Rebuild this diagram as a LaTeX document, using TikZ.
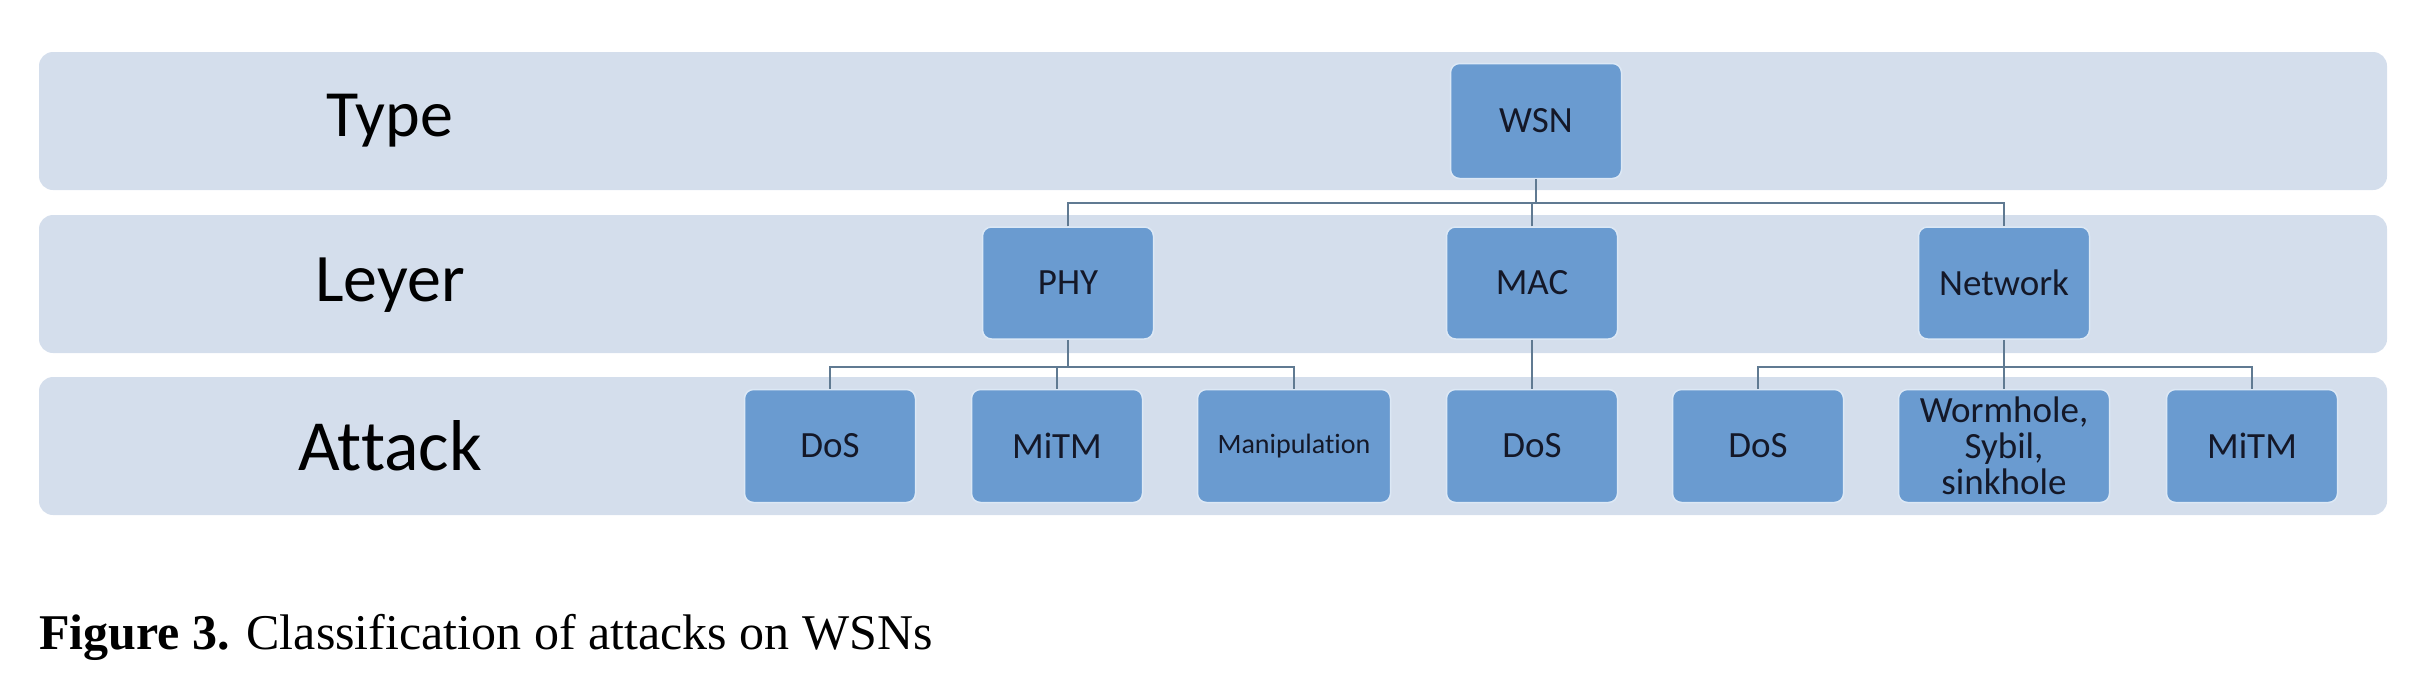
\documentclass[tikz,border=0pt]{standalone}
\usepackage{fontspec}
\setmainfont{Carlito}[Ligatures=NoCommon]
\newfontfamily\capfont{Liberation Serif}
\usetikzlibrary{calc}
\definecolor{bandfill}{RGB}{212,222,236}
\definecolor{boxfill}{RGB}{106,155,208}
\definecolor{boxline}{RGB}{220,232,245}
\definecolor{connline}{RGB}{96,122,146}
\definecolor{boxtext}{RGB}{20,24,40}
\tikzset{
  band/.style={fill=bandfill, draw=none, rounded corners=14pt},
  rowlabel/.style={font=\fontsize{66}{70}\selectfont, text=black, inner sep=0pt},
  nodebox/.style={rectangle, rounded corners=9pt, fill=boxfill, draw=boxline, line width=1.5pt,
    minimum width=171pt, minimum height=113pt, inner sep=2pt, align=center,
    text=boxtext, font=\fontsize{37}{37}\selectfont},
  conn/.style={draw=connline, line width=1.6pt},
}
\begin{document}
\begin{tikzpicture}[x=1pt,y=-1pt]
\useasboundingbox (0,0) rectangle (2426,686);
% bands
\fill[band] (39,52) rectangle (2387,190);
\fill[band] (39,215) rectangle (2387,353);
\fill[band] (39,377) rectangle (2387,515);
% row labels
\node[rowlabel] (ltype) at (390,121) {Type};
\node[rowlabel, font=\fontsize{68}{70}\selectfont] (llayer) at (390,285) {Leyer};
\node[rowlabel, font=\fontsize{72}{72}\selectfont] (lattack) at (390,446) {Attack};
% nodes
\node[nodebox, minimum height=115pt] (wsn) at (1536,121) {WSN};
\node[nodebox, minimum height=112pt] (phy) at (1068,283) {PHY};
\node[nodebox, minimum height=112pt] (mac) at (1532,283) {MAC};
\node[nodebox, minimum height=112pt] (net) at (2004,283) {Network};
\node[nodebox] (dosa) at (830,446) {DoS};
\node[nodebox] (mitma) at (1057,446) {MiTM};
\node[nodebox, minimum width=193pt, font=\fontsize{28}{30}\selectfont] (manip) at (1294,446) {Manipulation};
\node[nodebox] (dosb) at (1532,446) {DoS};
\node[nodebox] (dosc) at (1758,446) {DoS};
\node[nodebox, minimum width=211pt, inner sep=0pt, font=\fontsize{37}{36}\selectfont] (worm) at (2004,446) {Wormhole,\\Sybil,\\sinkhole};
\node[nodebox] (mitmb) at (2252,446) {MiTM};
% bus coordinates
\coordinate (busa) at (1536,203);
\coordinate (busb) at (1068,367);
\coordinate (busc) at (2004,367);
% connectors
\draw[conn] (wsn.south) -- (busa);
\draw[conn] (phy.north) |- (busa) -| (net.north);
\draw[conn] (mac.north) -- (mac.north |- busa);
\draw[conn] (phy.south) -- (busb);
\draw[conn] (dosa.north) |- (busb) -| (manip.north);
\draw[conn] (mitma.north) -- (mitma.north |- busb);
\draw[conn] (mac.south) -- (dosb.north);
\draw[conn] (net.south) -- (busc);
\draw[conn] (dosc.north) |- (busc) -| (mitmb.north);
\draw[conn] (worm.north) -- (worm.north |- busc);
% caption
\node[anchor=base west, inner sep=0pt, font=\capfont\fontsize{50}{52}\selectfont] (cap) at (39,649) {\textbf{Figure 3.} Classification of attacks on WSNs};
\end{tikzpicture}
\end{document}
